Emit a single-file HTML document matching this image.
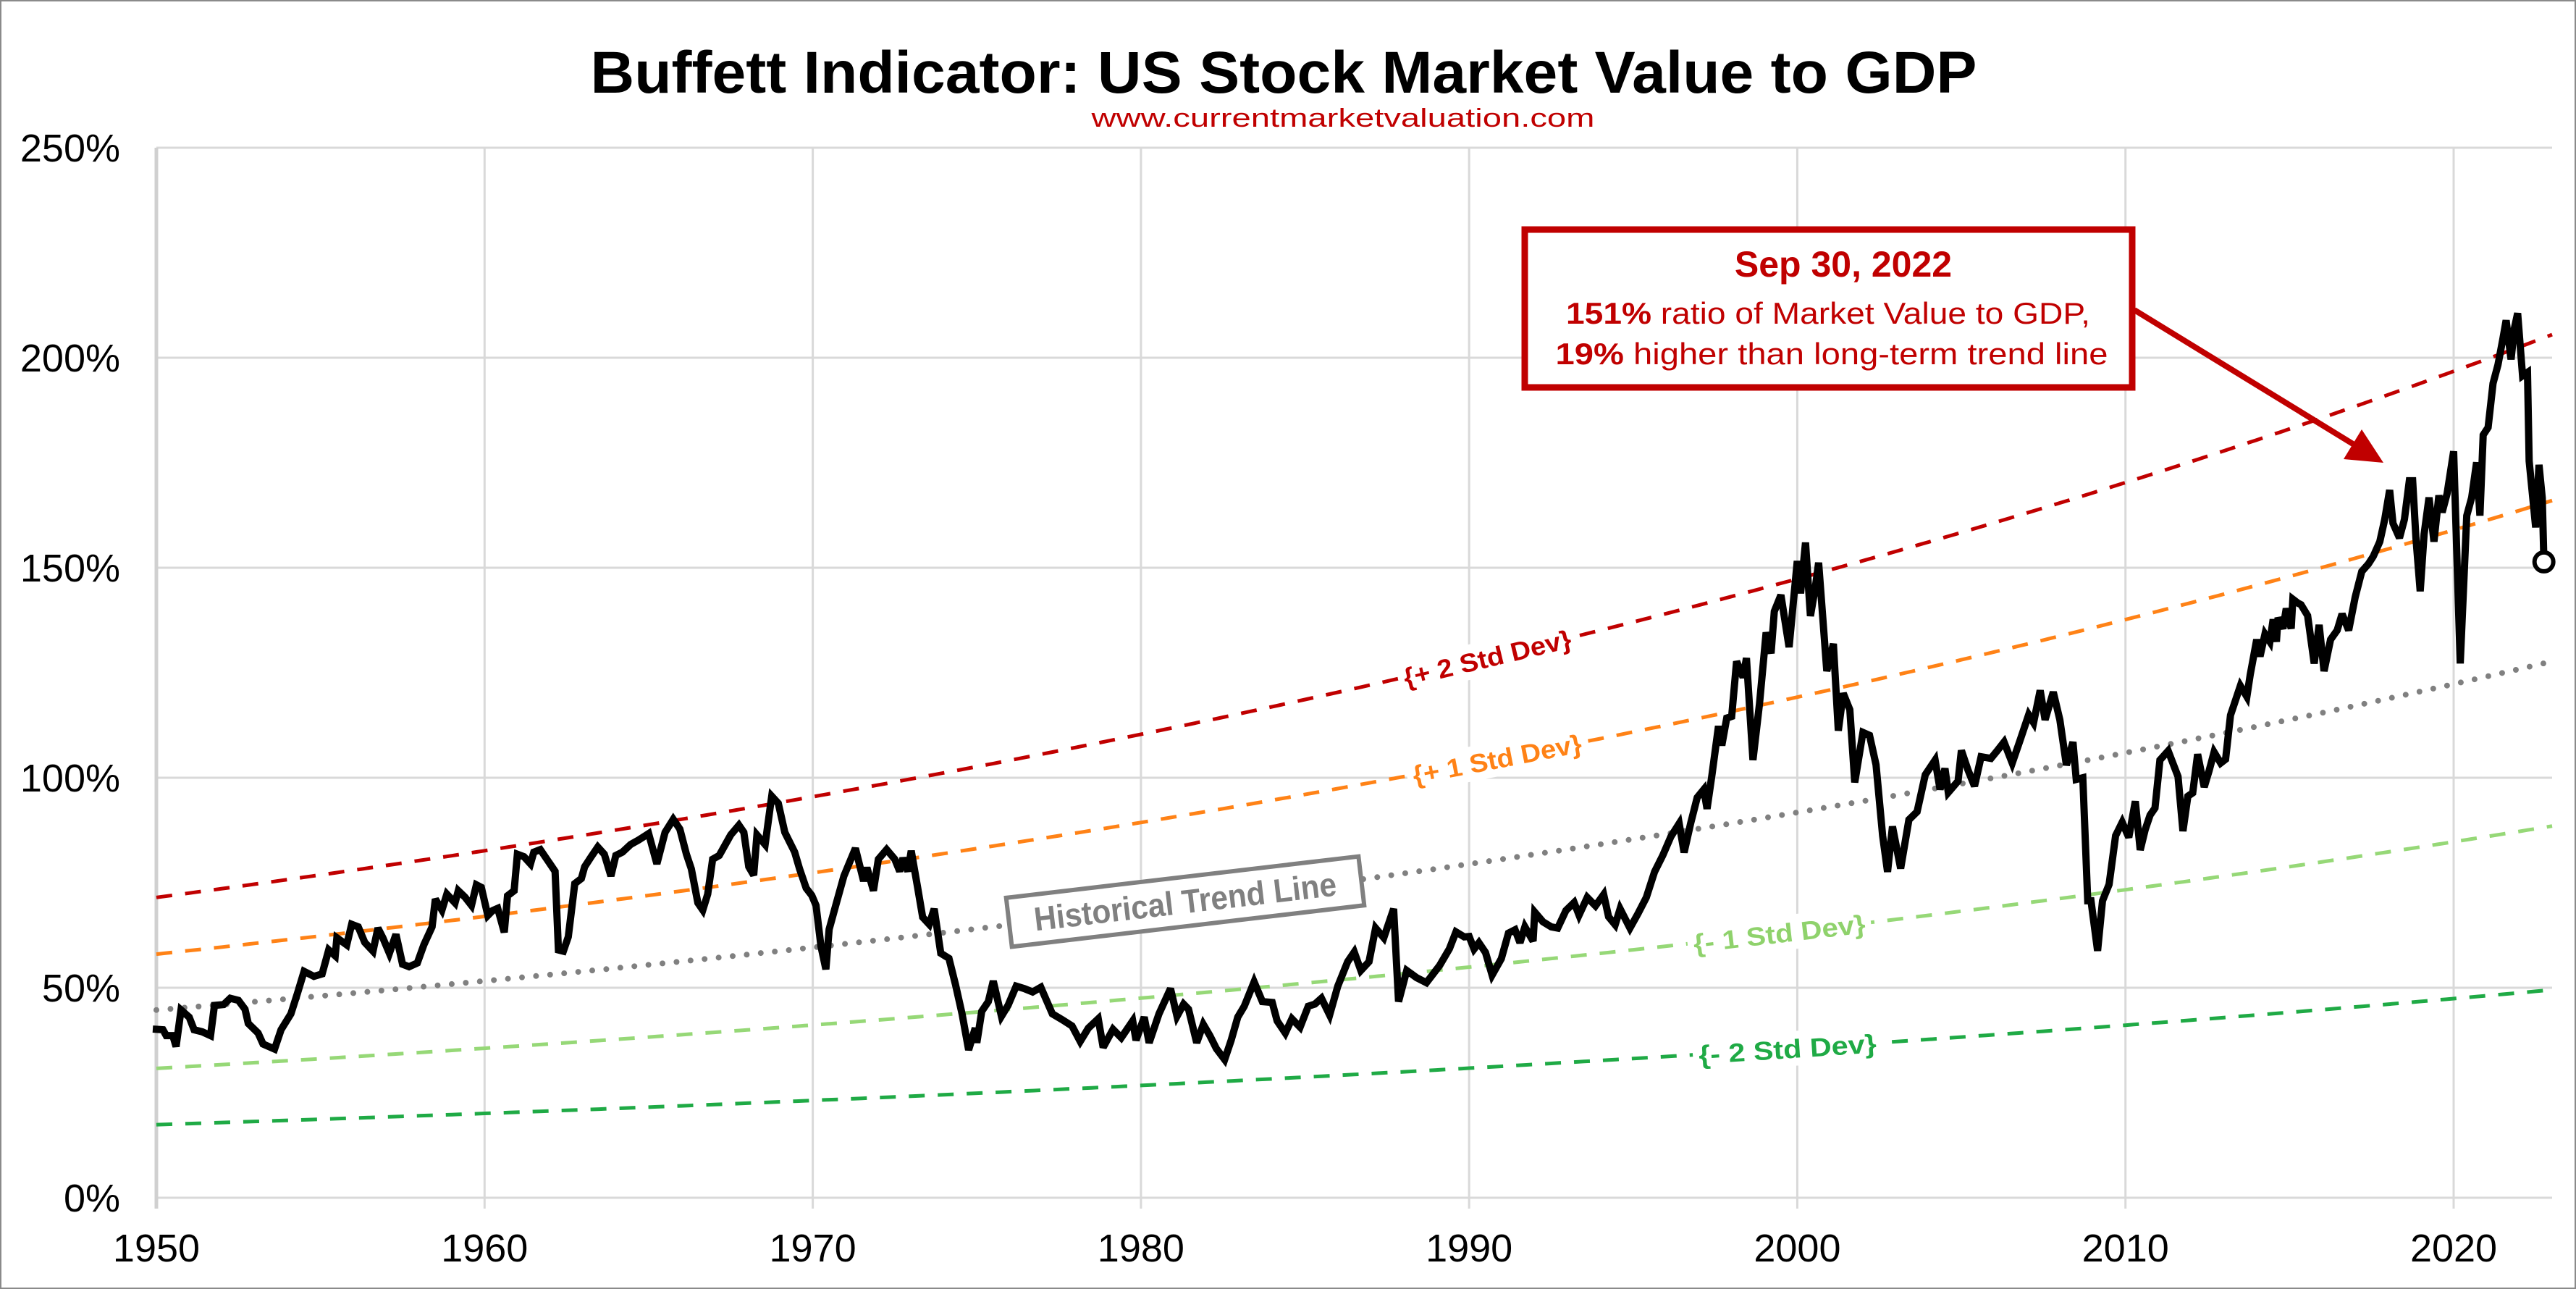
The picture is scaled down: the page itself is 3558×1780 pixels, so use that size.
<!DOCTYPE html>
<html><head><meta charset="utf-8">
<style>
html,body{margin:0;padding:0;background:#fff;}
svg{display:block;font-family:"Liberation Sans",sans-serif;}
</style></head>
<body>
<svg id="chart" width="3558" height="1780" viewBox="0 0 3558 1780" xmlns="http://www.w3.org/2000/svg">
<rect x="1" y="1" width="3556" height="1778" fill="#fff" stroke="#8a8a8a" stroke-width="2"/>
<text x="1773" y="128" text-anchor="middle" font-size="82" font-weight="bold" fill="#000" textLength="1915" lengthAdjust="spacingAndGlyphs">Buffett Indicator: US Stock Market Value to GDP</text>
<text x="1855" y="175" text-anchor="middle" font-size="36" fill="#c00000" textLength="695" lengthAdjust="spacingAndGlyphs">www.currentmarketvaluation.com</text>
<g id="grid"></g>
<g id="axes"></g>
<g id="bands"></g>
<g id="series"></g>
<g id="labels"></g>
<g>
  <line x1="2948" y1="428" x2="3258" y2="618" stroke="#c00000" stroke-width="8"/>
  <polygon points="3292,639 3237,634 3262,593" fill="#c00000"/>
  <rect x="2106" y="317" width="839" height="218" fill="#fff" stroke="#c00000" stroke-width="9"/>
  <text x="2546" y="382" text-anchor="middle" font-size="50" font-weight="bold" fill="#c00000">Sep 30, 2022</text>
  <text x="2525" y="447" text-anchor="middle" font-size="42" fill="#c00000" textLength="724" lengthAdjust="spacingAndGlyphs"><tspan font-weight="bold">151%</tspan> ratio of Market Value to GDP,</text>
  <text x="2530" y="503" text-anchor="middle" font-size="42" fill="#c00000" textLength="763" lengthAdjust="spacingAndGlyphs"><tspan font-weight="bold">19%</tspan> higher than long-term trend line</text>
</g>
</svg>
<script>
// ---- data ----
const yTicks = [0, 50, 100, 150, 200, 250];
const yTickLabels = ["0%", "50%", "100%", "150%", "200%", "250%"];
const xTicks = [1950, 1960, 1970, 1980, 1990, 2000, 2010, 2020];
const xTickLabels = ["1950", "1960", "1970", "1980", "1990", "2000", "2010", "2020"];
const bandYears = [1950, 2023];
const trendValues = [44.7, 127.7];
const plus2Values = [71.5, 205.5];
const plus1Values = [58.0, 166.0];
const minus1Values = [30.8, 88.5];
const minus2Values = [17.4, 49.5];
const seriesYears = [1950.0,1950.2,1950.3,1950.5,1950.6,1950.75,1951,1951.15,1951.4,1951.65,1951.77,1952.05,1952.25,1952.5,1952.7,1952.8,1953.1,1953.25,1953.6,1953.8,1954.1,1954.3,1954.5,1954.8,1955.05,1955.25,1955.45,1955.5,1955.8,1955.95,1956.15,1956.35,1956.6,1956.75,1956.9,1957.1,1957.3,1957.5,1957.7,1957.95,1958.15,1958.4,1958.5,1958.7,1958.85,1959.1,1959.2,1959.4,1959.6,1959.75,1959.9,1960.1,1960.25,1960.4,1960.6,1960.7,1960.9,1961,1961.2,1961.4,1961.5,1961.7,1961.95,1962.15,1962.25,1962.4,1962.55,1962.75,1962.95,1963.05,1963.25,1963.45,1963.65,1963.85,1964,1964.2,1964.45,1964.7,1965,1965.25,1965.5,1965.75,1965.95,1966.15,1966.3,1966.5,1966.65,1966.8,1966.95,1967.15,1967.5,1967.75,1967.9,1968.05,1968.2,1968.3,1968.55,1968.75,1968.95,1969.15,1969.45,1969.6,1969.8,1969.97,1970.1,1970.25,1970.4,1970.5,1970.7,1970.95,1971.3,1971.55,1971.65,1971.85,1972,1972.25,1972.5,1972.65,1972.75,1972.9,1973.0,1973.2,1973.35,1973.55,1973.7,1973.9,1974.15,1974.35,1974.55,1974.75,1974.95,1975.0,1975.15,1975.35,1975.5,1975.75,1975.95,1976.2,1976.45,1976.7,1976.95,1977.3,1977.6,1977.9,1978.15,1978.4,1978.7,1978.85,1979.15,1979.4,1979.75,1979.85,1980.1,1980.25,1980.55,1980.9,1981.1,1981.3,1981.45,1981.7,1981.9,1982.1,1982.3,1982.55,1982.75,1982.95,1983.15,1983.45,1983.7,1984,1984.15,1984.4,1984.6,1984.85,1985.1,1985.3,1985.5,1985.75,1986.0,1986.3,1986.5,1986.7,1986.95,1987.15,1987.4,1987.7,1987.85,1988.1,1988.4,1988.7,1989.1,1989.4,1989.6,1989.85,1990.0,1990.15,1990.3,1990.5,1990.7,1990.98,1991.2,1991.4,1991.55,1991.7,1991.95,1992.0,1992.25,1992.5,1992.7,1992.95,1993.2,1993.35,1993.6,1993.85,1994.1,1994.25,1994.45,1994.6,1994.9,1995.15,1995.4,1995.65,1995.9,1996.15,1996.4,1996.55,1996.75,1996.95,1997.15,1997.25,1997.4,1997.6,1997.7,1997.85,1998.0,1998.15,1998.35,1998.45,1998.65,1998.85,1999.05,1999.2,1999.3,1999.5,1999.75,2000.0,2000.1,2000.25,2000.4,2000.55,2000.65,2000.9,2001.1,2001.25,2001.4,2001.6,2001.75,2002.0,2002.2,2002.4,2002.6,2002.75,2002.9,2003.15,2003.4,2003.65,2003.9,2004.2,2004.35,2004.5,2004.6,2004.9,2005.0,2005.2,2005.4,2005.6,2005.9,2006.1,2006.3,2006.55,2006.8,2007.05,2007.2,2007.4,2007.55,2007.8,2008.0,2008.2,2008.4,2008.5,2008.7,2008.85,2008.95,2009.15,2009.3,2009.5,2009.7,2009.9,2010.1,2010.3,2010.45,2010.6,2010.75,2010.9,2011.05,2011.3,2011.6,2011.75,2011.9,2012.05,2012.2,2012.4,2012.55,2012.7,2012.9,2013.05,2013.2,2013.35,2013.5,2013.7,2013.8,2014.0,2014.1,2014.25,2014.4,2014.5,2014.6,2014.65,2014.8,2014.9,2015.05,2015.1,2015.25,2015.35,2015.55,2015.75,2015.9,2016.05,2016.25,2016.45,2016.6,2016.8,2017.0,2017.2,2017.4,2017.55,2017.75,2017.9,2018.05,2018.15,2018.35,2018.5,2018.65,2018.75,2018.85,2018.98,2019.1,2019.25,2019.4,2019.55,2019.65,2019.8,2020.0,2020.2,2020.4,2020.55,2020.7,2020.8,2020.9,2021.05,2021.2,2021.35,2021.5,2021.6,2021.75,2021.85,2021.95,2022.1,2022.25,2022.3,2022.5,2022.6,2022.7,2022.75];
const seriesValues = [40.1,40,38.6,38.6,36,44.7,43,40,39.5,38.6,45.8,46,47.5,47,44.9,41.5,39.2,36.6,35.4,40,43.8,48.7,53.9,52.7,53.3,59,57.6,61.9,60.2,65.1,64.5,60.8,58.7,64.2,61.9,58.2,62.7,55.6,55,55.9,60.2,64.5,71.1,68.5,72.3,70.2,73.1,71.6,69.6,74.5,73.9,67.2,68.4,68.9,63.2,71.9,73.1,81.8,81.2,79.5,82.3,82.9,80,77.7,59,58.7,62.1,74.8,76,78.8,81.2,83.5,81.8,76.6,81.5,82.3,84.1,85.2,86.7,79.5,87,90.1,87.8,81.8,78.3,70.2,68.5,72.3,80.6,81.5,86.4,88.7,87,78.8,76.8,86.4,84.1,95.6,93.9,87,82.3,78.3,73.7,72,69.6,59.9,54.4,63.9,69.6,76.6,83.2,75.4,78.6,73.1,80.6,82.9,80.6,77.7,80.9,77.7,82.6,73.7,66.8,65.1,68.8,58.2,57,50.7,43.8,35.2,40.4,36.9,44.4,46.7,51.6,43.2,45.8,50.4,49.8,49,50.1,43.8,42.4,40.9,37.2,40.4,42.6,35.8,40.1,38.1,42.1,37.5,43,36.9,43.8,49.8,43.2,46.1,44.9,36.9,41.3,38.6,35.5,32.9,37.5,43,45.6,51.4,46.7,46.5,42.1,39.2,42.6,40.6,45.6,46.1,47.5,43.5,50.4,56.2,58.5,54.1,56.2,64.2,61.9,68.8,46.7,54.1,52.4,51.2,55.3,59.3,63.3,62.1,62.2,59.2,60.7,58.4,53,56.9,63,63.8,60.7,64.5,61.1,68,65.7,64.5,64.2,68.4,70.3,67.3,71.5,69.5,72.2,66.9,65,68.8,64.2,67.7,71.5,77.6,81.5,86,89.1,82.2,89.1,95.3,97.2,92.6,100.7,112.3,107.7,114.2,114.6,127.7,123.9,128.5,104.2,117.7,134.6,129.6,139.6,143.5,131.1,151.6,143.9,156,138.5,145.4,151.2,125.4,131.9,111.2,120.1,116.2,98.9,110.8,110.1,103.1,86.2,77.6,88.4,78.4,90,91.9,100.7,104.2,97.2,102.2,96.5,99.2,106.5,101.9,98,105,104.6,106.5,108.5,103.5,109.2,115,113.1,120.8,113.8,120.4,113.8,103,108.5,99.6,100,70.7,70.7,58.8,70.7,74.6,86.2,89.4,85.8,94.4,82.8,87.6,91.1,92.8,104.2,106.4,100.3,87.3,95.6,96.4,105.6,97.8,101.7,106.1,103.5,104.4,114.9,118.4,121.9,119.3,124.5,132.9,128.9,134.2,132.4,137.7,132.4,138.1,135.5,140.3,135.5,142.5,141.6,141.2,138.6,127.2,136.4,125.4,132.9,135.1,139,135.1,143,149.1,150.9,152.7,156.2,161.5,168.5,160.6,157.1,161.5,170.7,170.7,157.1,144.4,158,166.7,156.2,167.2,163.2,167.6,177.7,127.2,162.4,166.7,175.1,162.4,181.6,183.4,193.9,198.3,204.5,208.9,199.6,207,210.6,195.7,196.5,175.4,159.6,174.5,166.6,151.4];

// ---- scales ----
const X0 = 216, X1 = 3525, YR0 = 1950, YR1 = 2023;
const Y0 = 1654, Y1 = 204;
function xs(yr){ return X0 + (yr - YR0) * (X1 - X0) / (YR1 - YR0); }
function ys(v){ return Y0 - v * (Y0 - Y1) / 250; }
const NS = "http://www.w3.org/2000/svg";
function mk(tag, attrs, parent){
  const e = document.createElementNS(NS, tag);
  for (const k in attrs) e.setAttribute(k, attrs[k]);
  parent.appendChild(e); return e;
}
const grid = document.getElementById('grid');
const axes = document.getElementById('axes');
yTicks.forEach((t, i) => {
  const l = mk('line', {x1: X0, x2: X1, y1: ys(t), y2: ys(t), stroke: '#d9d9d9', 'stroke-width': 3}, grid);
  
  
  const tx = mk('text', {x: 166, y: ys(t) + 19, 'text-anchor': 'end', 'font-size': 54, fill: '#000'}, axes);
  tx.textContent = yTickLabels[i];
  
  
});
xTicks.forEach((t, i) => {
  const l = mk('line', {x1: xs(t), x2: xs(t), y1: Y1, y2: 1669, stroke: t === 1950 ? '#d0d0d0' : '#d9d9d9', 'stroke-width': t === 1950 ? 5 : 3}, grid);
  
  
  const tx = mk('text', {x: xs(t), y: 1742, 'text-anchor': 'middle', 'font-size': 54, fill: '#000'}, axes);
  tx.textContent = xTickLabels[i];
  
  
});

// ---- bands ----
function bandAt(vals, yr){
  const f = (yr - bandYears[0]) / (bandYears[1] - bandYears[0]);
  return vals[0] * Math.pow(vals[1] / vals[0], f);
}
function bandPath(vals){
  let d = '';
  for (let yr = bandYears[0]; yr <= bandYears[1] + 1e-9; yr += 0.25){
    d += (d ? 'L' : 'M') + xs(yr).toFixed(1) + ',' + ys(bandAt(vals, yr)).toFixed(1);
  }
  return d;
}
const bandsG = document.getElementById('bands');
const bandDefs = [
  {vals: plus2Values, color: '#c00000', name: 'plus-2-std-dev-line', dash: '22 18', w: 5},
  {vals: plus1Values, color: '#ff8216', name: 'plus-1-std-dev-line', dash: '22 18', w: 5},
  {vals: minus1Values, color: '#96d877', name: 'minus-1-std-dev-line', dash: '22 18', w: 5},
  {vals: minus2Values, color: '#1faa45', name: 'minus-2-std-dev-line', dash: '22 18', w: 5},
  {vals: trendValues, color: '#808080', name: 'historical-trend-line', dash: '0 19.5', w: 8}
];
bandDefs.forEach(b => {
  const p = mk('path', {d: bandPath(b.vals), fill: 'none', stroke: b.color, 'stroke-width': b.w, 'stroke-dasharray': b.dash, 'stroke-linecap': b.dash.startsWith('0') ? 'round' : 'butt'}, bandsG);
  
  
});

// ---- series ----
const seriesG = document.getElementById('series');
let d = '';
seriesYears.forEach((yr, i) => { d += (i ? 'L' : 'M') + xs(yr).toFixed(1) + ',' + ys(seriesValues[i]).toFixed(1); });
const sp = mk('path', {d: d, fill: 'none', stroke: '#000', 'stroke-width': 10, 'stroke-linejoin': 'miter', 'stroke-miterlimit': 3, 'stroke-linecap': 'square'}, seriesG);


const li = seriesYears.length - 1;
const endPt = mk('circle', {cx: xs(seriesYears[li]), cy: ys(seriesValues[li]), r: 13, fill: '#fff', stroke: '#000', 'stroke-width': 6}, seriesG);



// ---- band labels ----
const labelsG = document.getElementById('labels');
const labelDefs = [
  {text: '{+ 2 Std Dev}', vals: plus2Values, yr: 1990.55, color: '#c00000', name: 'plus-2-std-dev-label', w: 237},
  {text: '{+ 1 Std Dev}', vals: plus1Values, yr: 1990.85, color: '#ff8216', name: 'plus-1-std-dev-label', w: 237},
  {text: '{- 1 Std Dev}', vals: minus1Values, yr: 1999.45, color: '#8fd26c', name: 'minus-1-std-dev-label', w: 239},
  {text: '{- 2 Std Dev}', vals: minus2Values, yr: 1999.7, color: '#1faa45', name: 'minus-2-std-dev-label', w: 246}
];
labelDefs.forEach(L => {
  const cx = xs(L.yr), cy = ys(bandAt(L.vals, L.yr));
  const dx = xs(L.yr + 1) - xs(L.yr - 1), dy = ys(bandAt(L.vals, L.yr + 1)) - ys(bandAt(L.vals, L.yr - 1));
  const ang = Math.atan2(dy, dx) * 180 / Math.PI;
  const g = mk('g', {transform: `translate(${cx},${cy}) rotate(${ang})`}, labelsG);
  
  
  mk('rect', {x: -L.w / 2 - 8, y: -24, width: L.w + 16, height: 48, fill: '#fff'}, g);
  const t = mk('text', {x: 0, y: 13, 'text-anchor': 'middle', 'font-size': 36, 'font-weight': 'bold', fill: L.color, textLength: L.w, lengthAdjust: 'spacingAndGlyphs'}, g);
  t.textContent = L.text;
});
// historical trend label box
const hg = mk('g', {transform: 'translate(1637,1245) rotate(-6.7)'}, labelsG);


mk('rect', {x: -245, y: -34, width: 490, height: 68, fill: '#fff', stroke: '#808080', 'stroke-width': 6}, hg);
const ht = mk('text', {x: 0, y: 16, 'text-anchor': 'middle', 'font-size': 46, 'font-weight': 'bold', fill: '#808080', textLength: 420, lengthAdjust: 'spacingAndGlyphs'}, hg);
ht.textContent = 'Historical Trend Line';
</script>
</body></html>
